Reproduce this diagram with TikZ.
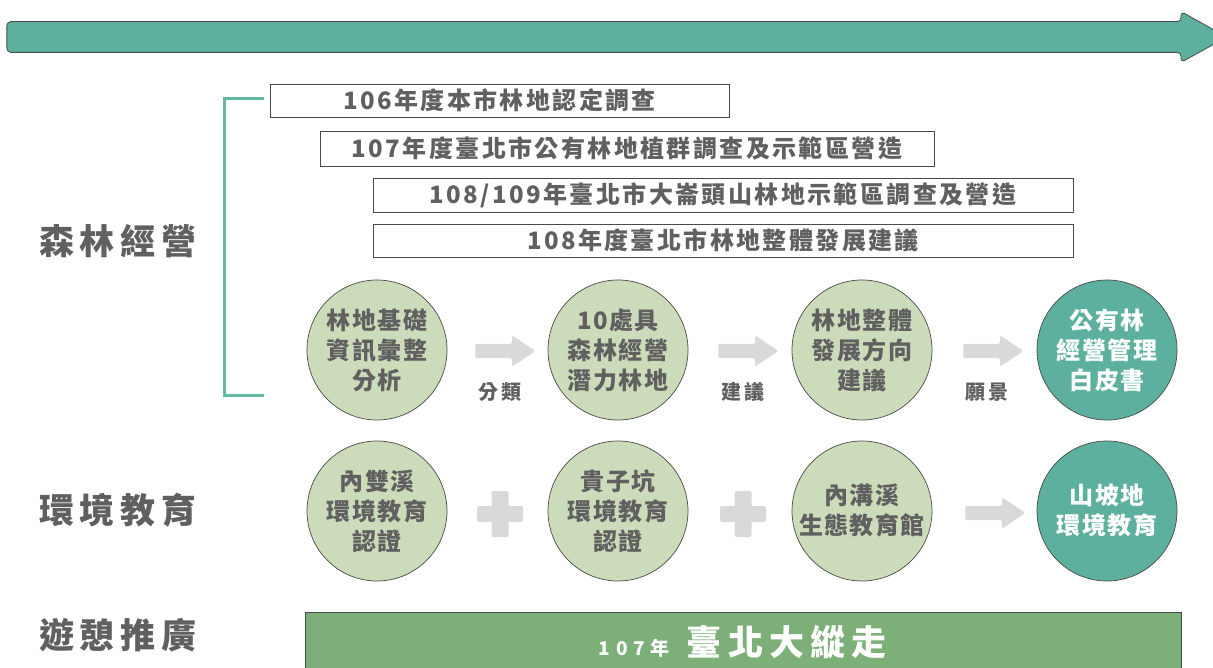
\documentclass[tikz,border=0pt]{standalone}
\usepackage{fontspec}
\setmainfont{Noto Sans CJK TC}
\usetikzlibrary{shapes.arrows,positioning}

\definecolor{tealmain}{HTML}{5CB09D}
\definecolor{tealline}{HTML}{62B8A2}
\definecolor{leafgreen}{HTML}{CCDCBA}
\definecolor{barGreen}{HTML}{7DAF78}
\definecolor{arrowgray}{HTML}{D9D9D9}
\definecolor{textgray}{HTML}{606060}
\definecolor{edgegray}{HTML}{4A4A4A}

\newcommand{\sized}[3]{\fontsize{#1}{#2}\selectfont\addfontfeature{LetterSpace=#3}}

\begin{document}
\begin{tikzpicture}[x=1pt, y=-1pt,
	every node/.style = {align=center, font=\bfseries},
	yearbox/.style = {draw=edgegray, line width=0.8pt, fill=white, minimum height=33pt,
		inner sep=0pt, text=textgray, font=\bfseries\sized{24}{26}{10}},
	stage/.style = {circle, draw=edgegray, line width=0.7pt, fill=leafgreen, minimum size=140pt,
		inner sep=0pt, text=textgray, font=\bfseries\sized{24}{30}{6}},
	goal/.style = {stage, fill=tealmain, text=white},
	topic/.style = {text=textgray, font=\bfseries\sized{35}{38}{17}},
	steplbl/.style = {text=textgray, font=\bfseries\sized{20}{22}{15}},
	garrow/.style = {single arrow, fill=arrowgray, rounded corners=2pt, inner sep=7pt,
		minimum height=60pt, single arrow head extend=8.5pt, single arrow tip angle=68},
	plusbar/.style = {fill=arrowgray, rounded corners=2pt}]

	\useasboundingbox (0,0) rectangle (1213,668);

	% timeline
	\node[single arrow, draw=edgegray, line width=0.8pt, fill=tealmain, rounded corners=4pt,
		inner sep=15pt, minimum height=1220pt, single arrow head extend=10pt,
		single arrow tip angle=58] (timeline) at (603,37) {};

	% projects
	\node[yearbox, minimum width=459pt] (y106) at (499.5,100.5) {106年度本市林地認定調查};
	\node[yearbox, minimum width=614pt, minimum height=35pt] (y107) at (627,148.5) {107年度臺北市公有林地植群調查及示範區營造};
	\node[yearbox, minimum width=700pt, minimum height=34pt] (y109) at (723,195) {108/109年臺北市大崙頭山林地示範區調查及營造};
	\node[yearbox, minimum width=700pt] (y108) at (723,240.5) {108年度臺北市林地整體發展建議};

	\coordinate (brtop) at (264,99);
	\coordinate (brbot) at (264,395);
	\draw[tealline, line width=3pt] (brtop) -- ++(-40,0) |- (brbot);

	% topics
	\node[topic] (forest) at (118,241) {森林經營};
	\node[topic] (edu) at (118,510) {環境教育};
	\node[topic] (rec) at (118,635) {遊憩推廣};

	% forest row
	\node[stage] (base) at (377,350) {林地基礎\\資訊彙整\\分析};
	\node[stage] (pot) at (618,350) {10處具\\森林經營\\潛力林地};
	\node[stage] (plan) at (862,350) {林地整體\\發展方向\\建議};
	\node[goal] (white) at (1107,350) {公有林\\經營管理\\白皮書};

	\node[garrow] (a1) at (500,351) {};
	\node[garrow] (a2) at (743,351) {};
	\node[garrow] (a3) at (988,351) {};
	\node[steplbl] (l1) at (500,392) {分類};
	\node[steplbl] (l2) at (743,392) {建議};
	\node[steplbl] (l3) at (987,392) {願景};

	% education row
	\node[stage] (nsx) at (377,511) {內雙溪\\環境教育\\認證};
	\node[stage] (gzk) at (618,511) {貴子坑\\環境教育\\認證};
	\node[stage] (ngx) at (862,511) {內溝溪\\生態教育館};
	\node[goal] (slope) at (1107,511) {山坡地\\環境教育};

	\foreach \x in {500,743} {
		\fill[plusbar] (\x-23,506) rectangle (\x+23,522);
		\fill[plusbar] (\x-8.5,491) rectangle (\x+8.5,537);
	}
	\node[garrow] (a4) at (990,513) {};

	% recreation
	\node[draw=edgegray, line width=0.8pt, fill=barGreen, minimum width=876pt, minimum height=60pt,
		inner sep=0pt, text=white] (walk) at (743,642)
		{{\sized{19}{22}{30}107年}\hspace{17pt}{\sized{35}{38}{18}臺北大縱走}};

\end{tikzpicture}
\end{document}
